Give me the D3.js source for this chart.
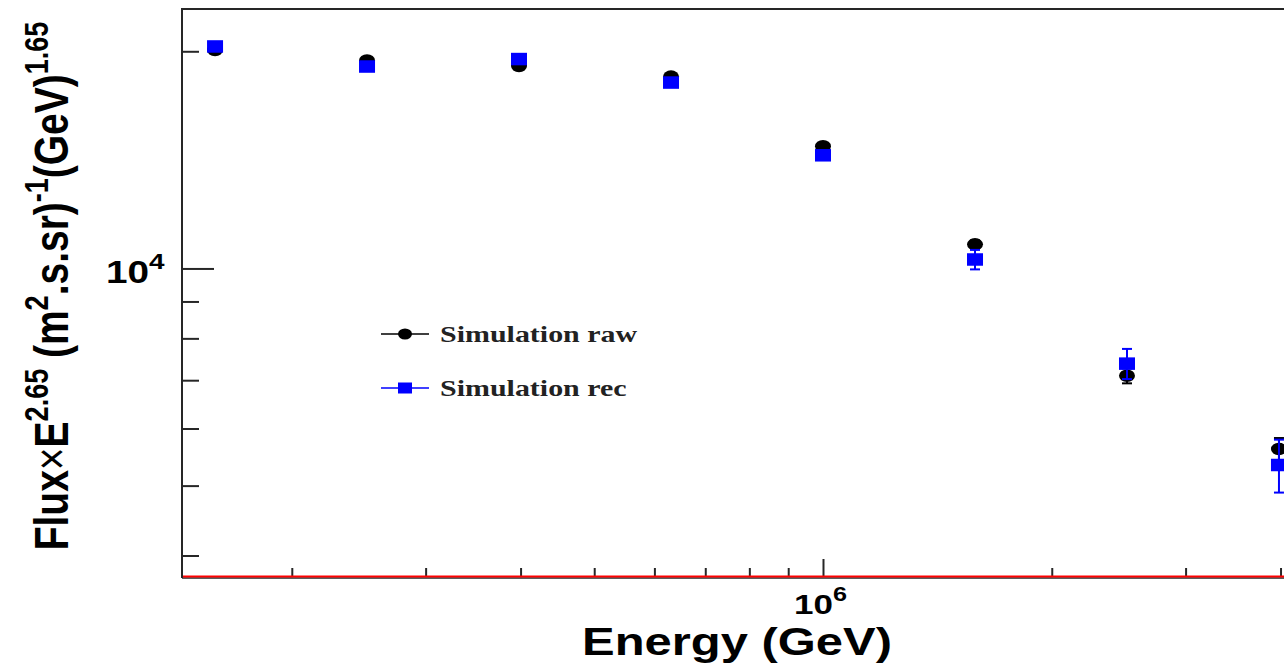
<!DOCTYPE html>
<html>
<head>
<meta charset="utf-8">
<script src="https://cdn.jsdelivr.net/npm/d3@7"></script>
<style>
  html, body { margin: 0; padding: 0; background: #fff; overflow: hidden; }
  svg { display: block; }
</style>
</head>
<body>
<svg id="chart" width="1284" height="663"></svg>
<script>
// Energy bins (GeV) and flux x E^2.65 for the two simulated spectra
const energies = [1.585e5, 2.512e5, 3.981e5, 6.310e5, 1.0e6, 1.585e6, 2.512e6, 3.981e6];
const rawFlux  = [20080, 19420, 19080, 18450, 14770, 10800, 7100, 5620];
const rawErr   = [60, 70, 80, 90, 110, 140, 170, 200];
const recFlux  = [20310, 19050, 19510, 18100, 14350, 10290, 7380, 5340];
const recErr   = [120, 130, 150, 170, 200, 320, 355, 450];

const xTicks = [2e5, 3e5, 4e5, 5e5, 6e5, 7e5, 8e5, 9e5, 1e6, 2e6, 3e6, 4e6];
const xMajor = [1e6];
const yTicks = [4000, 5000, 6000, 7000, 8000, 9000, 1e4, 2e4];
const yMajor = [1e4];

const legendLabels = ["Simulation raw", "Simulation rec"];

const SX = 1.25; // horizontal stretch of the canvas

(function draw() {
const svg = d3.select("#chart");
const padL = 182, padR = 1300, padT = 9, padB = 577;

const x = d3.scaleLog().domain([143400, 4243000]).range([padL, padR]);
const y = d3.scaleLog().domain([3735, 22890]).range([padB, padT]);

const axisCol = "#262626";

// frame
svg.append("line").attr("x1", padL).attr("x2", 1290).attr("y1", padT).attr("y2", padT)
  .attr("stroke", axisCol).attr("stroke-width", 2);
svg.append("line").attr("x1", padL).attr("x2", padL).attr("y1", padT - 1).attr("y2", padB + 1)
  .attr("stroke", axisCol).attr("stroke-width", 2);

// y axis ticks
const yAxis = d3.axisRight(y).tickValues(yTicks).tickFormat("")
  .tickSize(17).tickSizeOuter(0);
const gy = svg.append("g").attr("transform", `translate(${padL},0)`).call(yAxis);
gy.select(".domain").remove();
gy.selectAll(".tick line")
  .attr("stroke", axisCol).attr("stroke-width", 2)
  .attr("x2", d => yMajor.includes(d) ? 32 : 17);

// x axis ticks
const xAxis = d3.axisTop(x).tickValues(xTicks).tickFormat("").tickSize(9).tickSizeOuter(0);
const gx = svg.append("g").attr("transform", `translate(0,${padB})`).call(xAxis);
gx.select(".domain").remove();
gx.selectAll(".tick line")
  .attr("stroke", axisCol).attr("stroke-width", 2)
  .attr("y2", d => xMajor.includes(d) ? -18 : -9);

// bottom axis line with the red reference line on it
svg.append("line").attr("x1", padL).attr("x2", 1290).attr("y1", padB + 1).attr("y2", padB + 1)
  .attr("stroke", axisCol).attr("stroke-width", 1.5);
svg.append("line").attr("x1", padL + 1).attr("x2", 1290).attr("y1", padB - 0.5).attr("y2", padB - 0.5)
  .attr("stroke", "#ff0000").attr("stroke-width", 2);

// tick labels (10^n)
function powerLabel(g, px, py, base, exp, size) {
  const t = g.append("text")
    .attr("transform", `translate(${px},${py}) scale(${SX},1)`)
    .attr("font-family", "'Liberation Sans', Arial, sans-serif")
    .attr("font-weight", "bold").attr("font-size", size).attr("fill", "#000");
  t.append("tspan").text(base);
  t.append("tspan").attr("font-size", size * 0.72).attr("dy", -size * 0.45).text(exp);
  return t;
}
powerLabel(svg, 106, 283, "10", "4", 31);
powerLabel(svg, 794, 614, "10", "6", 28);

// axis titles
svg.append("text")
  .attr("transform", `translate(737,654.5) scale(${SX * 1.03},1)`)
  .attr("text-anchor", "middle")
  .attr("font-family", "'Liberation Sans', Arial, sans-serif")
  .attr("font-weight", "bold").attr("font-size", 38).attr("fill", "#000")
  .text("Energy (GeV)");

const yt = svg.append("text")
  .attr("transform", `translate(68,286) scale(${SX},1) rotate(-90)`)
  .attr("text-anchor", "middle")
  .attr("font-family", "'Liberation Sans', Arial, sans-serif")
  .attr("font-weight", "bold").attr("font-size", 39).attr("fill", "#000");
const ytParts = [
  ["Flux", 0], ["\u00D7", 0, "normal"], ["E", 0], ["2.65", 1], [" (m", 0], ["2", 1], [".s.sr)", 0],
  ["-1", 1], ["(GeV)", 0], ["1.65", 1]
];
let prevSup = 0;
ytParts.forEach(([s, sup, weight]) => {
  const ts = yt.append("tspan").text(s);
  const shift = 16;
  if (sup && !prevSup) ts.attr("dy", -shift);
  if (!sup && prevSup) ts.attr("dy", shift);
  if (sup) ts.attr("font-size", 27);
  if (weight) ts.attr("font-weight", weight);
  prevSup = sup;
});

// series drawing
const MW = 16, MH = 12.5;
function errorBars(vals, errs, color) {
  const g = svg.append("g").attr("stroke", color).attr("stroke-width", 2).attr("fill", "none");
  vals.forEach((v, i) => {
    const cx = x(energies[i]);
    const y1 = y(v + errs[i]), y2 = y(v - errs[i]);
    g.append("line").attr("x1", cx).attr("x2", cx).attr("y1", y1).attr("y2", y2);
    g.append("line").attr("x1", cx - 5).attr("x2", cx + 5).attr("y1", y1).attr("y2", y1);
    g.append("line").attr("x1", cx - 5).attr("x2", cx + 5).attr("y1", y2).attr("y2", y2);
  });
}

errorBars(rawFlux, rawErr, "#000");
svg.append("g").selectAll("ellipse").data(rawFlux).join("ellipse")
  .attr("cx", (d, i) => x(energies[i])).attr("cy", d => y(d))
  .attr("rx", MW / 2).attr("ry", MH / 2).attr("fill", "#000");

errorBars(recFlux, recErr, "#0000ff");
svg.append("g").selectAll("rect").data(recFlux).join("rect")
  .attr("x", (d, i) => x(energies[i]) - MW / 2).attr("y", d => y(d) - MH / 2)
  .attr("width", MW).attr("height", MH).attr("fill", "#0000ff");

// legend
const legend = svg.append("g");
const legY = [334, 388];
const legColors = ["#000", "#0000ff"];
legendLabels.forEach((lab, i) => {
  legend.append("line").attr("x1", 381).attr("x2", 429).attr("y1", legY[i]).attr("y2", legY[i])
    .attr("stroke", legColors[i]).attr("stroke-width", 1.6);
  if (i === 0) {
    legend.append("ellipse").attr("cx", 405).attr("cy", legY[i]).attr("rx", 7).attr("ry", 5.5)
      .attr("fill", legColors[i]);
  } else {
    legend.append("rect").attr("x", 398).attr("y", legY[i] - 5.5).attr("width", 14).attr("height", 11)
      .attr("fill", legColors[i]);
  }
  legend.append("text")
    .attr("transform", `translate(440,${legY[i] + 7.5}) scale(${SX * 1.02},1)`)
    .attr("font-family", "'Liberation Serif', 'Times New Roman', serif")
    .attr("font-weight", "bold").attr("font-size", 23.5).attr("fill", "#222")
    .text(lab);
});
})();
</script>
</body>
</html>
